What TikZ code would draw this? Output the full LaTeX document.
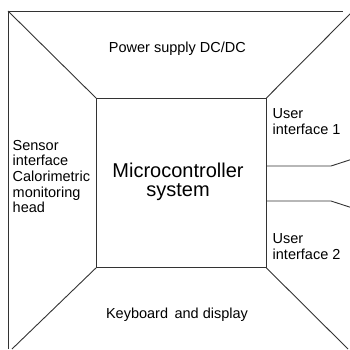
\documentclass[tikz,border=0pt]{standalone}
\usepackage{fontspec}
\setmainfont{Liberation Sans}
\begin{document}
\begin{tikzpicture}[x=1pt,y=-1pt,
  wire/.style={draw=black!80,line width=0.9pt},
  lbl/.style={inner sep=0pt,font=\fontsize{14.5}{15.6}\selectfont},
  big/.style={inner sep=0pt,align=center,font=\fontsize{20}{19}\selectfont}]
\useasboundingbox (0,0) rectangle (350,349);
% inner box
\node[draw=black!80,line width=0.9pt,minimum width=169.5pt,minimum height=169pt,inner sep=0pt,anchor=north west] (mc) at (96,98) {};
% outer frame
\coordinate (otl) at (8,11);
\coordinate (otr) at (343,11);
\coordinate (obl) at (8,349);
\coordinate (dtr) at (351,13);
\coordinate (dbl) at (12,349);
\coordinate (dbr) at (348,349);
\draw[wire] (obl) -- (otl) -- (otr);
\draw[wire] (otl) -- (mc.north west);
\draw[wire] (mc.north east) -- (dtr);
\draw[wire] (mc.south west) -- (dbl);
\draw[wire] (mc.south east) -- (dbr);
% right leads
\coordinate (k1) at (331,166);
\coordinate (e1) at (351,159.5);
\coordinate (k2) at (331,201);
\coordinate (e2) at (351,207.5);
\draw[wire] (mc.east |- k1) -- (k1) -- (e1);
\draw[wire] (mc.east |- k2) -- (k2) -- (e2);
% texts
\node[lbl,anchor=base] (ps) at (177.4,52.7) {Power supply DC/DC};
\node[lbl,anchor=base] (kd) at (177,318.3) {Keyboard\hspace{0.45em}and display};
\node[big,anchor=base] (mt) at (178,196) {Microcontroller\\system};
\node[lbl,align=left,anchor=base west] (si) at (12.5,212.7) {Sensor\\interface\\Calorimetric\\monitoring\\head};
\node[lbl,align=left,anchor=base west] (u1) at (272.5,134.3) {User\\interface 1};
\node[lbl,align=left,anchor=base west] (u2) at (272.5,259.3) {User\\interface 2};
\end{tikzpicture}
\end{document}
